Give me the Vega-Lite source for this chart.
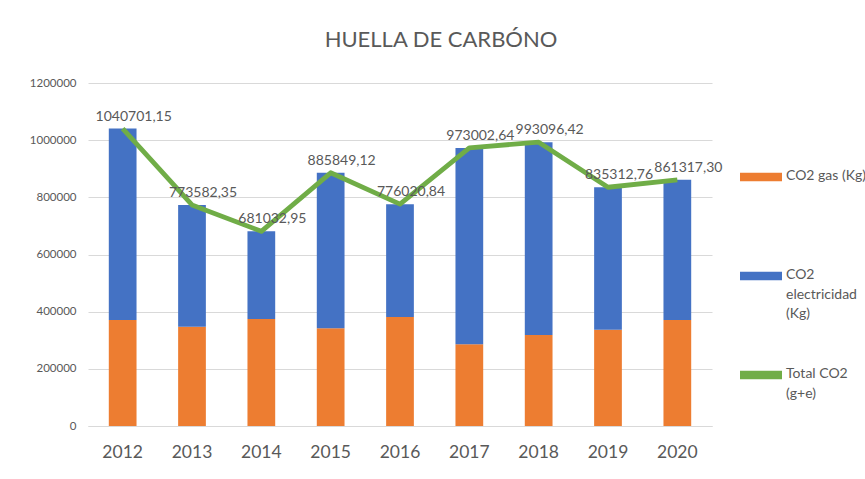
{
  "$schema": "https://vega.github.io/schema/vega-lite/v6.json",
  "width": 624,
  "height": 343,
  "autosize": {"type": "none"},
  "padding": {"left": 88, "top": 83, "right": 153, "bottom": 53},
  "background": "white",
  "title": {
    "text": "HUELLA DE CARBÓNO",
    "font": "Lato",
    "fontSize": 22,
    "fontWeight": "normal",
    "color": "#595959",
    "anchor": "middle",
    "frame": "group",
    "dx": 41,
    "offset": 25
  },
  "data": {
    "values": [
      {"anio": "2012", "CO2 gas (Kg)": 371000, "CO2 electricidad (Kg)": 669701.15, "total": 1040701.15},
      {"anio": "2013", "CO2 gas (Kg)": 347600, "CO2 electricidad (Kg)": 425982.35, "total": 773582.35},
      {"anio": "2014", "CO2 gas (Kg)": 374500, "CO2 electricidad (Kg)": 306532.95, "total": 681032.95},
      {"anio": "2015", "CO2 gas (Kg)": 341800, "CO2 electricidad (Kg)": 544049.12, "total": 885849.12},
      {"anio": "2016", "CO2 gas (Kg)": 381500, "CO2 electricidad (Kg)": 394520.84, "total": 776020.84},
      {"anio": "2017", "CO2 gas (Kg)": 285800, "CO2 electricidad (Kg)": 687202.64, "total": 973002.64},
      {"anio": "2018", "CO2 gas (Kg)": 318500, "CO2 electricidad (Kg)": 674596.42, "total": 993096.42},
      {"anio": "2019", "CO2 gas (Kg)": 337100, "CO2 electricidad (Kg)": 498212.76, "total": 835312.76},
      {"anio": "2020", "CO2 gas (Kg)": 371000, "CO2 electricidad (Kg)": 490317.30, "total": 861317.30}
    ]
  },
  "encoding": {
    "x": {
      "field": "anio",
      "type": "nominal",
      "scale": {"paddingInner": 0.6, "paddingOuter": 0.3},
      "axis": {
        "title": null,
        "labelAngle": 0,
        "labelFont": "Lato",
        "labelFontSize": 17.5,
        "labelColor": "#595959",
        "labelPadding": 17,
        "ticks": false,
        "domain": true,
        "domainColor": "#d9d9d9",
        "domainWidth": 1
      }
    }
  },
  "layer": [
    {
      "transform": [
        {"fold": ["CO2 gas (Kg)", "CO2 electricidad (Kg)"], "as": ["serie", "valor"]}
      ],
      "mark": {"type": "bar"},
      "encoding": {
        "y": {
          "field": "valor",
          "type": "quantitative",
          "stack": "zero",
          "scale": {"domain": [0, 1200000], "nice": false},
          "axis": {
            "title": null,
            "values": [0, 200000, 400000, 600000, 800000, 1000000, 1200000],
            "format": "d",
            "labelFont": "Lato",
            "labelFontSize": 11.5,
            "labelColor": "#595959",
            "labelPadding": 12,
            "domain": false,
            "ticks": false,
            "grid": true,
            "gridColor": "#d9d9d9",
            "gridWidth": 1
          }
        },
        "color": {
          "field": "serie",
          "type": "nominal",
          "scale": {
            "domain": ["CO2 gas (Kg)", "CO2 electricidad (Kg)", "Total CO2 (g+e)"],
            "range": ["#ed7d31", "#4472c4", "#70ad47"]
          },
          "legend": {
            "title": null,
            "orient": "none",
            "direction": "vertical",
            "legendX": 652,
            "legendY": 73,
            "labelFont": "Lato",
            "labelFontSize": 14,
            "labelColor": "#595959",
            "labelBaseline": "top",
            "labelOffset": 4,
            "labelLimit": 200,
            "symbolType": "M-1,-0.2H1V0.2H-1Z",
            "symbolSize": 1764,
            "symbolStrokeWidth": 0,
            "rowPadding": 33,
            "labelExpr": "datum.label == 'CO2 electricidad (Kg)' ? ['CO2', 'electricidad', '(Kg)'] : datum.label == 'Total CO2 (g+e)' ? ['Total CO2', '(g+e)', ' '] : [datum.label, ' ', ' ']",
            "encode": {
              "labels": {"update": {"dy": {"value": -8}, "lineHeight": {"value": 19.5}}}
            }
          }
        },
        "order": {"field": "serie", "sort": "descending"}
      }
    },
    {
      "mark": {"type": "line", "strokeWidth": 4.8, "strokeJoin": "round"},
      "encoding": {
        "y": {"field": "total", "type": "quantitative"},
        "color": {"datum": "Total CO2 (g+e)"}
      }
    },
    {
      "mark": {"type": "text", "font": "Lato", "fontSize": 14, "color": "#595959", "dx": 11, "dy": -12, "baseline": "middle"},
      "encoding": {
        "y": {"field": "total", "type": "quantitative"},
        "text": {"field": "total", "type": "quantitative", "format": ".2f"}
      }
    }
  ],
  "config": {
    "locale": {
      "number": {"decimal": ",", "thousands": "", "grouping": [3], "currency": ["", ""]}
    },
    "view": {"stroke": null}
  }
}
